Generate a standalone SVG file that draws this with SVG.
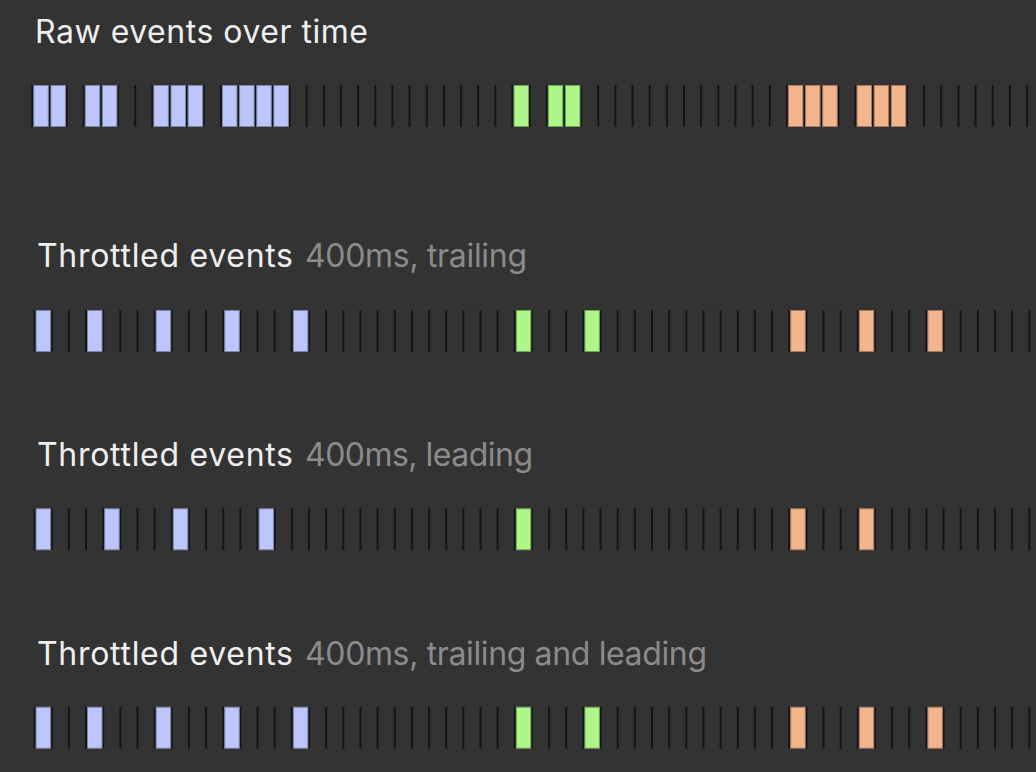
<svg xmlns="http://www.w3.org/2000/svg" xmlns:xlink="http://www.w3.org/1999/xlink" width="1036" height="772" viewBox="0 0 1036 772">
<style>
.t{font-family:Inter,"Liberation Sans",sans-serif;font-size:32px;fill:#efefef}
.g{fill:#8b8b8b}
.tk{stroke:#151515;stroke-width:2;fill:none}
.b{fill:#bdc6fb;stroke:#7c84a6;stroke-width:1}
.gr{fill:#aef58a;stroke:#6fa557;stroke-width:1}
.o{fill:#f2b58e;stroke:#a57a5e;stroke-width:1}
</style>
<defs>
<path id="ticks" class="tk" d="M32.3 0v42M49.45 0v42M66.6 0v42M83.75 0v42M100.9 0v42M118.05 0v42M135.2 0v42M152.35 0v42M169.5 0v42M186.65 0v42M203.8 0v42M220.95 0v42M238.1 0v42M255.25 0v42M272.4 0v42M289.55 0v42M306.7 0v42M323.85 0v42M341 0v42M358.15 0v42M375.3 0v42M392.45 0v42M409.6 0v42M426.75 0v42M443.9 0v42M461.05 0v42M478.2 0v42M495.35 0v42M512.5 0v42M529.65 0v42M546.8 0v42M563.95 0v42M581.1 0v42M598.25 0v42M615.4 0v42M632.55 0v42M649.7 0v42M666.85 0v42M684 0v42M701.15 0v42M718.3 0v42M735.45 0v42M752.6 0v42M769.75 0v42M786.9 0v42M804.05 0v42M821.2 0v42M838.35 0v42M855.5 0v42M872.65 0v42M889.8 0v42M906.95 0v42M924.1 0v42M941.25 0v42M958.4 0v42M975.55 0v42M992.7 0v42M1009.85 0v42M1027 0v42"/>
</defs>
<rect width="1036" height="772" fill="#333333"/>

<g id="raw">
<text class="t" x="35" y="43" textLength="333" lengthAdjust="spacing">Raw events over time</text>
<g transform="translate(0,85)">
<use xlink:href="#ticks" href="#ticks"/>
<rect class="b" x="33.8" y="0.5" width="14.5" height="41"/>
<rect class="b" x="50.95" y="0.5" width="14.5" height="41"/>
<rect class="b" x="85.25" y="0.5" width="14.5" height="41"/>
<rect class="b" x="102.4" y="0.5" width="14.5" height="41"/>
<rect class="b" x="153.85" y="0.5" width="14.5" height="41"/>
<rect class="b" x="171" y="0.5" width="14.5" height="41"/>
<rect class="b" x="188.15" y="0.5" width="14.5" height="41"/>
<rect class="b" x="222.45" y="0.5" width="14.5" height="41"/>
<rect class="b" x="239.6" y="0.5" width="14.5" height="41"/>
<rect class="b" x="256.75" y="0.5" width="14.5" height="41"/>
<rect class="b" x="273.9" y="0.5" width="14.5" height="41"/>
<rect class="gr" x="514" y="0.5" width="14.5" height="41"/>
<rect class="gr" x="548.3" y="0.5" width="14.5" height="41"/>
<rect class="gr" x="565.45" y="0.5" width="14.5" height="41"/>
<rect class="o" x="788.4" y="0.5" width="14.5" height="41"/>
<rect class="o" x="805.55" y="0.5" width="14.5" height="41"/>
<rect class="o" x="822.7" y="0.5" width="14.5" height="41"/>
<rect class="o" x="857" y="0.5" width="14.5" height="41"/>
<rect class="o" x="874.15" y="0.5" width="14.5" height="41"/>
<rect class="o" x="891.3" y="0.5" width="14.5" height="41"/>
</g>
</g>

<g id="trailing">
<text class="t" x="37" y="267" textLength="256" lengthAdjust="spacing">Throttled events</text>
<text class="t g" x="305" y="267" textLength="222" lengthAdjust="spacing">400ms, trailing</text>
<g transform="translate(2.3,310)">
<use xlink:href="#ticks" href="#ticks"/>
<rect class="b" x="33.8" y="0.5" width="14.5" height="41"/>
<rect class="b" x="85.25" y="0.5" width="14.5" height="41"/>
<rect class="b" x="153.85" y="0.5" width="14.5" height="41"/>
<rect class="b" x="222.45" y="0.5" width="14.5" height="41"/>
<rect class="b" x="291.05" y="0.5" width="14.5" height="41"/>
<rect class="gr" x="514" y="0.5" width="14.5" height="41"/>
<rect class="gr" x="582.6" y="0.5" width="14.5" height="41"/>
<rect class="o" x="788.4" y="0.5" width="14.5" height="41"/>
<rect class="o" x="857" y="0.5" width="14.5" height="41"/>
<rect class="o" x="925.6" y="0.5" width="14.5" height="41"/>
</g>
</g>

<g id="leading">
<text class="t" x="37" y="466" textLength="256" lengthAdjust="spacing">Throttled events</text>
<text class="t g" x="305" y="466" textLength="228" lengthAdjust="spacing">400ms, leading</text>
<g transform="translate(2.3,508.3)">
<use xlink:href="#ticks" href="#ticks"/>
<rect class="b" x="33.8" y="0.5" width="14.5" height="41"/>
<rect class="b" x="102.4" y="0.5" width="14.5" height="41"/>
<rect class="b" x="171" y="0.5" width="14.5" height="41"/>
<rect class="b" x="256.75" y="0.5" width="14.5" height="41"/>
<rect class="gr" x="514" y="0.5" width="14.5" height="41"/>
<rect class="o" x="788.4" y="0.5" width="14.5" height="41"/>
<rect class="o" x="857" y="0.5" width="14.5" height="41"/>
</g>
</g>

<g id="trailing-leading">
<text class="t" x="37" y="665" textLength="256" lengthAdjust="spacing">Throttled events</text>
<text class="t g" x="305" y="665" textLength="402" lengthAdjust="spacing">400ms, trailing and leading</text>
<g transform="translate(2.3,706.7)">
<use xlink:href="#ticks" href="#ticks"/>
<rect class="b" x="33.8" y="0.5" width="14.5" height="41"/>
<rect class="b" x="85.25" y="0.5" width="14.5" height="41"/>
<rect class="b" x="153.85" y="0.5" width="14.5" height="41"/>
<rect class="b" x="222.45" y="0.5" width="14.5" height="41"/>
<rect class="b" x="291.05" y="0.5" width="14.5" height="41"/>
<rect class="gr" x="514" y="0.5" width="14.5" height="41"/>
<rect class="gr" x="582.6" y="0.5" width="14.5" height="41"/>
<rect class="o" x="788.4" y="0.5" width="14.5" height="41"/>
<rect class="o" x="857" y="0.5" width="14.5" height="41"/>
<rect class="o" x="925.6" y="0.5" width="14.5" height="41"/>
</g>
</g>
</svg>
